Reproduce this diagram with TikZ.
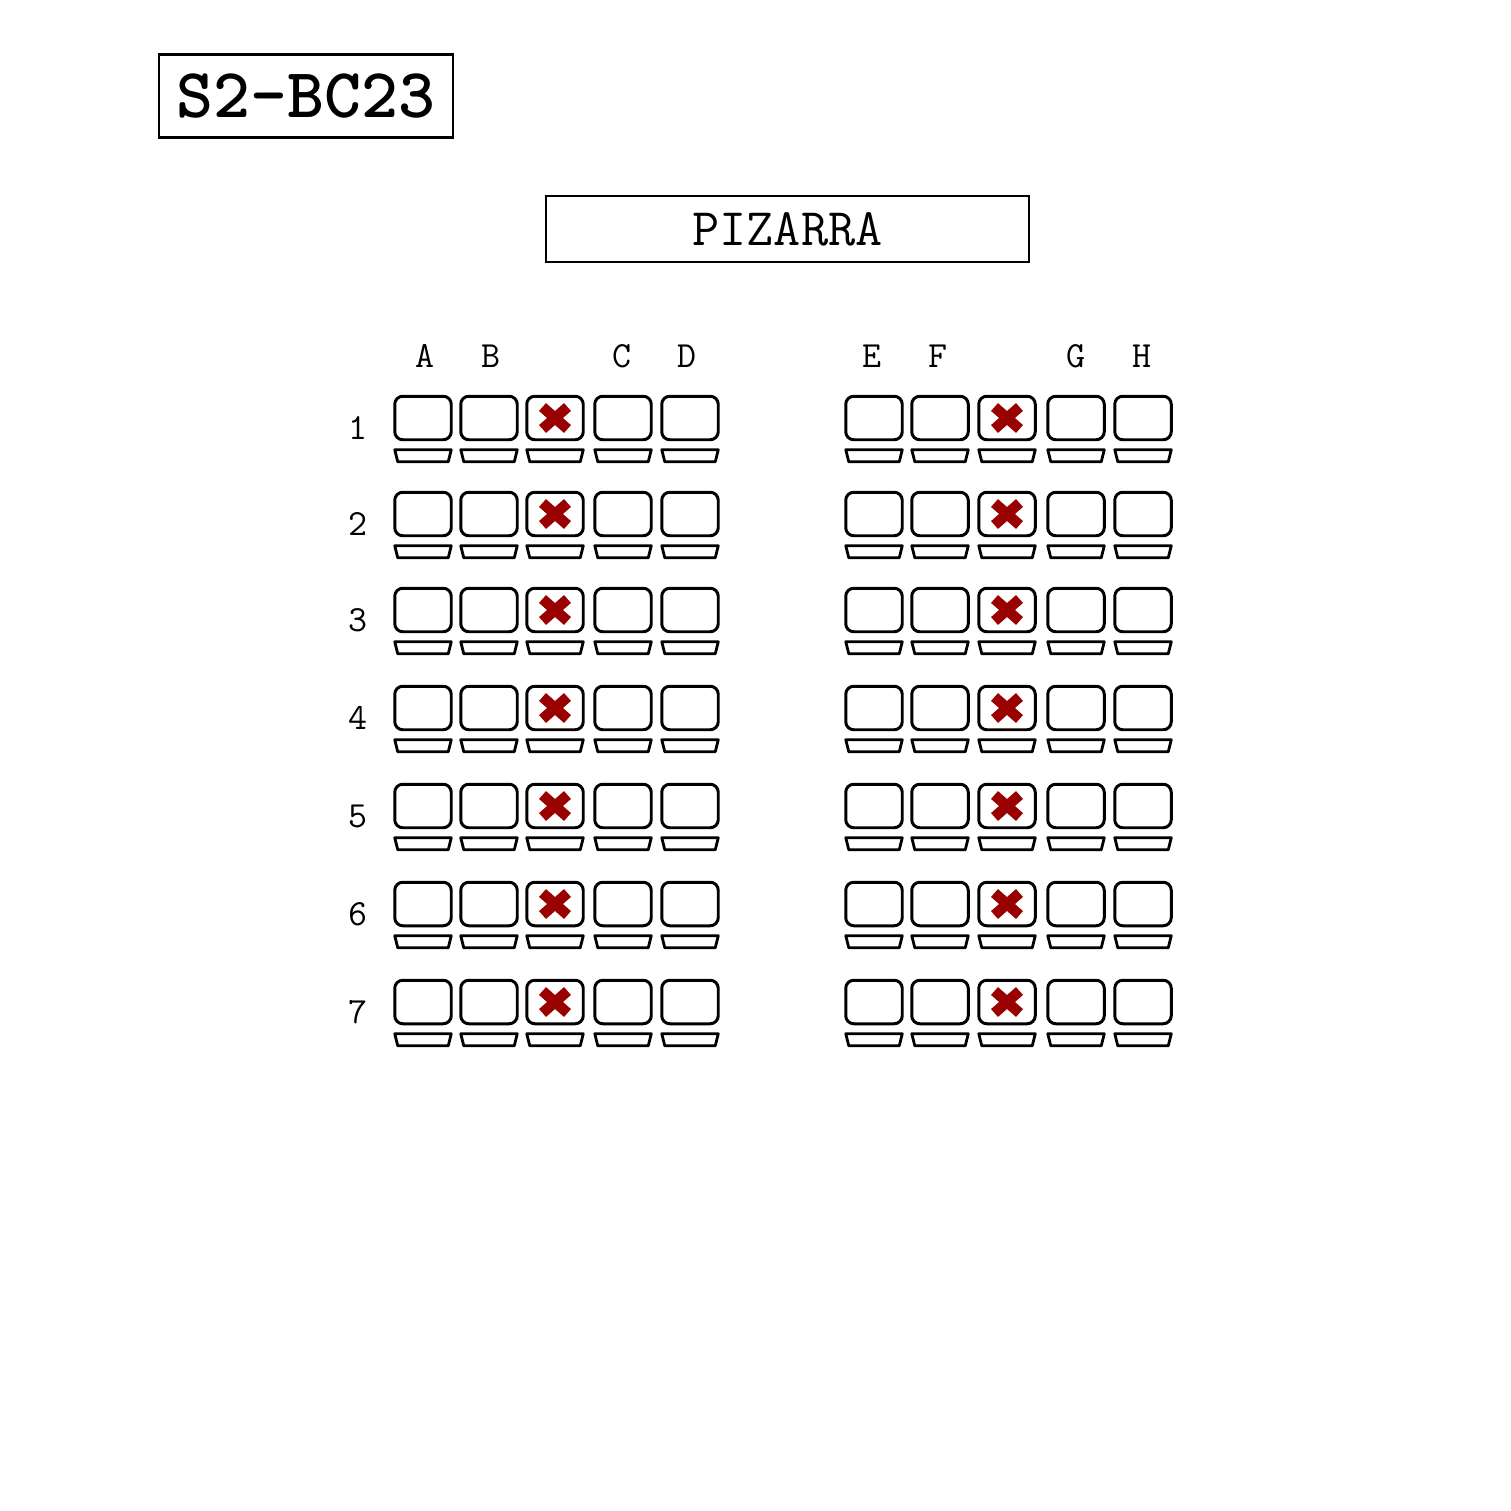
\documentclass[tikz,border=0pt]{standalone}
\usepackage{fontspec}
\usetikzlibrary{positioning}

\definecolor{crossred}{HTML}{990000}

\begin{document}
\begin{tikzpicture}[x=0.02cm,y=-0.02cm,font=\ttfamily]
        \tikzset{seat/.style = {shape=rectangle,draw,line width=1.7pt,rounded corners=0.16cm,
                minimum width=1.13cm,minimum height=0.87cm,outer sep=0pt,inner sep=0pt}}
        \tikzset{desk/.style = {draw,line width=1.6pt,line join=round}}
        \tikzset{cross/.style = {crossred,line width=0.21cm}}
        \tikzset{collabel/.style = {font=\ttfamily\fontsize{21}{21}\selectfont}}
        \tikzset{framebox/.style = {draw,line width=1.6pt,inner sep=0pt,outer sep=0pt}}
        \useasboundingbox (0,0) rectangle (1511,1511);
        % title and board
        \node[framebox,minimum width=5.88cm,minimum height=1.66cm] (title) at (306,96)
                {\fontsize{40}{40}\selectfont\bfseries S2-BC23};
        \node[framebox,minimum width=9.66cm,minimum height=1.32cm] (board) at (787.5,229)
                {\fontsize{30}{30}\selectfont PIZARRA};
        % column letters
        \foreach \l/\x in {A/425,B/491,C/622,D/687,E/872,F/938,G/1076,H/1142}
                \node[collabel] (col-\l) at (\x,356) {\l};
        % seats
        \foreach \r/\y in {1/418,2/514,3/610,4/708,5/806,6/904,7/1002} {
                \node[collabel] (row-\r) at (358,\y+10) {\r};
                \foreach \c/\x in {1/423,2/489,3/555,4/623,5/690,6/874,7/940,8/1007,9/1076,10/1143} {
                        \node[seat] (s-\r-\c) at (\x,\y) {};
                        \draw[desk] ([yshift=-0.2cm]s-\r-\c.south west) -- ++(56.5,0) -- ++(-3,12)
                                -- ++(-50.5,0) -- cycle;
                }
                % taken seats
                \foreach \c in {3,8}
                        \draw[cross] ([xshift=-0.25cm,yshift=0.22cm]s-\r-\c.center) -- ([xshift=0.25cm,yshift=-0.22cm]s-\r-\c.center)
                                ([xshift=-0.25cm,yshift=-0.22cm]s-\r-\c.center) -- ([xshift=0.25cm,yshift=0.22cm]s-\r-\c.center);
        }
\end{tikzpicture}
\end{document}
